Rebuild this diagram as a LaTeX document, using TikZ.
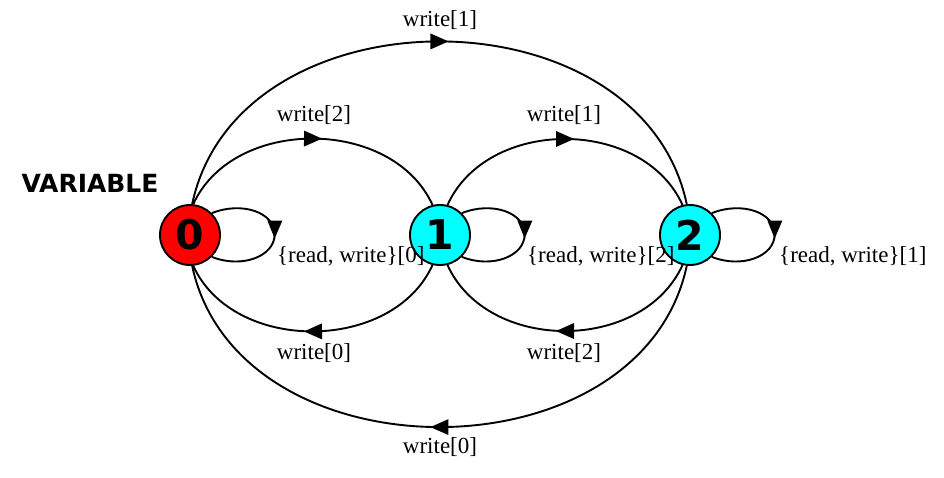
\documentclass[tikz,border=0pt]{standalone}
\usepackage{fontspec}
\setmainfont{Liberation Serif}
\newfontfamily\djs{DejaVu Sans}
\usetikzlibrary{decorations.markings}
\definecolor{nodecyan}{RGB}{0,255,255}
\definecolor{nodered}{RGB}{255,0,0}
\begin{document}
\begin{tikzpicture}[x=1pt,y=-1pt,
  stnode/.style={circle,draw=black,line width=1.9pt,minimum size=60pt,inner sep=0pt,
    font=\djs\bfseries\fontsize{41}{41}\selectfont},
  lbl/.style={font=\fontsize{23}{27}\selectfont,inner sep=0pt},
  edge/.style={draw=black,line width=1.9pt},
  midarrow/.style={postaction={decorate},decoration={markings,
    mark=at position 0.5 with {\fill[black] (-9pt,-8pt) -- (9pt,0pt) -- (-9pt,8pt) -- cycle;}}},
  looparrow/.style={postaction={decorate},decoration={markings,
    mark=at position 0.5 with {\fill[black] (-14pt,-7.5pt) -- (4pt,0pt) -- (-14pt,7.5pt) -- cycle;}}}
]
\useasboundingbox (0,0) rectangle (944,478);

\node[font=\djs\bfseries\fontsize{25}{25}\selectfont,inner sep=0pt] (title) at (90,183.5) {VARIABLE};

\node[stnode,fill=nodered] (n0) at (190,235) {0};
\node[stnode,fill=nodecyan] (n1) at (440,235) {1};
\node[stnode,fill=nodecyan] (n2) at (690,235) {2};

% upper arcs
\draw[edge,midarrow] (n0.84) .. controls +(40,-88) and +(-40,-88) .. (n1.104);
\draw[edge,midarrow] (n1.76) .. controls +(40,-88) and +(-40,-88) .. (n2.104);
\draw[edge,midarrow] (n0.86) .. controls +(46,-217) and +(-46,-217) .. (n2.96);
% lower arcs
\draw[edge,midarrow] (n1.-104) .. controls +(-40,88) and +(40,88) .. (n0.-84);
\draw[edge,midarrow] (n2.-104) .. controls +(-40,88) and +(40,88) .. (n1.-76);
\draw[edge,midarrow] (n2.-96) .. controls +(-46,215) and +(46,215) .. (n0.-86);
% self loops
\draw[edge,looparrow] (n0.45) .. controls +(30,-12) and +(0,-22) .. ++(62.8,21.2)
  .. controls +(0,22) and +(30,12) .. (n0.-45);
\draw[edge,looparrow] (n1.45) .. controls +(30,-12) and +(0,-22) .. ++(62.8,21.2)
  .. controls +(0,22) and +(30,12) .. (n1.-45);
\draw[edge,looparrow] (n2.45) .. controls +(30,-12) and +(0,-22) .. ++(62.8,21.2)
  .. controls +(0,22) and +(30,12) .. (n2.-45);

% labels
\node[lbl] (l01) at (314,115) {write[2]};
\node[lbl] (l02) at (440,20) {write[1]};
\node[lbl] (l12) at (564,115) {write[1]};
\node[lbl] (l10) at (314,353) {write[0]};
\node[lbl] (l21) at (564,353) {write[2]};
\node[lbl] (l20) at (440,447) {write[0]};
\node[lbl,anchor=west] (s0) at (277,256) {\{read, write\}[0]};
\node[lbl,anchor=west] (s1) at (527,256) {\{read, write\}[2]};
\node[lbl,anchor=west] (s2) at (779,256) {\{read, write\}[1]};
\end{tikzpicture}
\end{document}
